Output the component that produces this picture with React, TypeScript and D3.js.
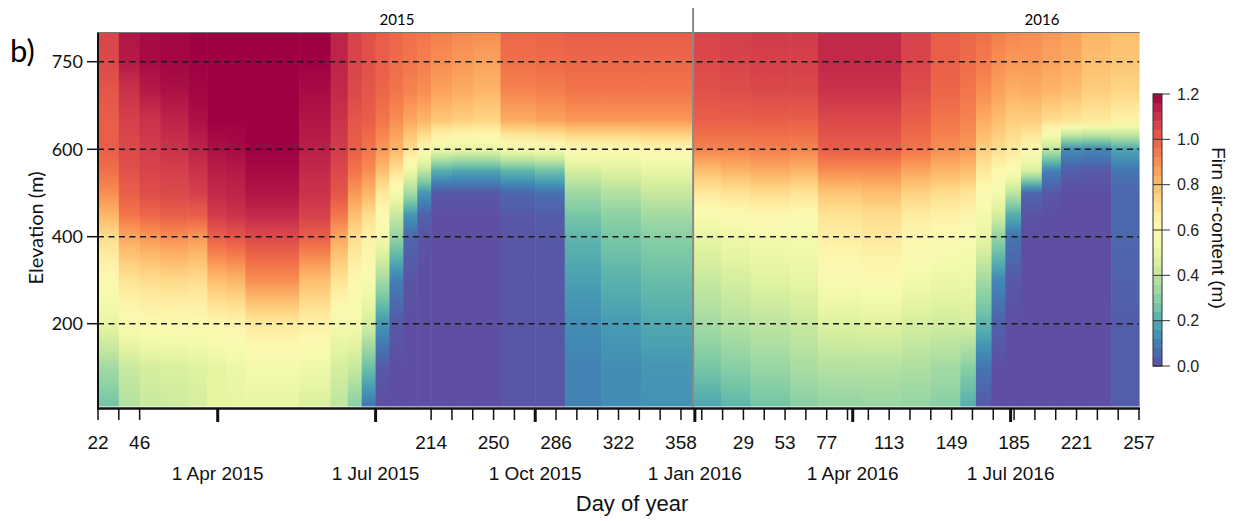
import React from "react";
import * as d3 from "d3";

// elevation levels (m) at which each profile is read
const elevations = [10, 100, 200, 300, 400, 450, 500, 550, 600, 650, 700, 750, 800];

// start day of each column (day of 2015; 2016 days are +365)
const colStartDay = [22, 34, 46, 58, 74, 85, 96, 107, 121, 138, 156, 166, 174, 182, 190, 198, 206,
  214, 226, 238, 254, 274, 291, 312, 335, 365, 381, 398, 421, 437, 462, 485, 502, 519, 528, 537,
  545, 554, 566, 577, 589, 606];
const lastDay = 622;

// firn air content (m) per column, bottom -> top (same order as elevations)
const firnAir = [
  [0.26, 0.35, 0.5, 0.6, 0.72, 0.82, 0.9, 0.96, 1.0, 1.0, 1.02, 1.05, 1.06],
  [0.38, 0.42, 0.58, 0.7, 0.85, 0.95, 1.0, 1.03, 1.05, 1.07, 1.1, 1.15, 1.16],
  [0.42, 0.45, 0.6, 0.72, 0.88, 0.98, 1.04, 1.06, 1.08, 1.1, 1.15, 1.18, 1.18],
  [0.43, 0.46, 0.6, 0.73, 0.9, 1.0, 1.05, 1.07, 1.1, 1.13, 1.17, 1.19, 1.19],
  [0.45, 0.48, 0.6, 0.72, 0.88, 1.0, 1.07, 1.1, 1.13, 1.17, 1.19, 1.2, 1.2],
  [0.5, 0.5, 0.62, 0.8, 1.0, 1.08, 1.12, 1.14, 1.17, 1.2, 1.2, 1.2, 1.2],
  [0.5, 0.52, 0.63, 0.82, 1.02, 1.1, 1.13, 1.15, 1.18, 1.2, 1.2, 1.2, 1.2],
  [0.5, 0.55, 0.68, 0.9, 1.05, 1.12, 1.16, 1.18, 1.2, 1.2, 1.2, 1.2, 1.2],
  [0.5, 0.55, 0.68, 0.9, 1.05, 1.12, 1.16, 1.18, 1.2, 1.2, 1.2, 1.2, 1.2],
  [0.46, 0.53, 0.65, 0.8, 1.0, 1.07, 1.1, 1.12, 1.14, 1.16, 1.18, 1.2, 1.2],
  [0.4, 0.45, 0.55, 0.7, 0.85, 0.95, 1.02, 1.05, 1.08, 1.1, 1.12, 1.13, 1.13],
  [0.3, 0.42, 0.55, 0.62, 0.72, 0.8, 0.88, 0.95, 1.0, 1.02, 1.05, 1.06, 1.06],
  [0.08, 0.25, 0.45, 0.57, 0.65, 0.72, 0.82, 0.9, 0.95, 1.0, 1.02, 1.03, 1.03],
  [0, 0.02, 0.15, 0.35, 0.55, 0.6, 0.68, 0.8, 0.88, 0.95, 0.98, 1.0, 1.0],
  [0, 0, 0.02, 0.1, 0.32, 0.42, 0.55, 0.7, 0.82, 0.9, 0.95, 0.97, 0.98],
  [0, 0, 0, 0.01, 0.05, 0.15, 0.35, 0.52, 0.72, 0.85, 0.92, 0.95, 0.96],
  [0, 0, 0, 0, 0.01, 0.04, 0.15, 0.4, 0.62, 0.82, 0.9, 0.93, 0.95],
  [0, 0, 0, 0, 0, 0, 0.02, 0.2, 0.52, 0.78, 0.86, 0.9, 0.93],
  [0, 0, 0, 0, 0, 0, 0.02, 0.18, 0.5, 0.76, 0.84, 0.88, 0.91],
  [0, 0, 0, 0, 0, 0, 0.02, 0.18, 0.5, 0.74, 0.82, 0.86, 0.9],
  [0.015, 0.015, 0.015, 0.015, 0.015, 0.02, 0.05, 0.22, 0.55, 0.84, 0.92, 0.96, 0.98],
  [0.015, 0.015, 0.015, 0.015, 0.02, 0.03, 0.07, 0.25, 0.56, 0.86, 0.93, 0.97, 0.99],
  [0.11, 0.11, 0.13, 0.17, 0.22, 0.27, 0.34, 0.45, 0.6, 0.88, 0.95, 0.98, 1.0],
  [0.13, 0.13, 0.16, 0.21, 0.27, 0.31, 0.38, 0.47, 0.6, 0.88, 0.95, 0.98, 1.0],
  [0.14, 0.15, 0.19, 0.24, 0.3, 0.35, 0.42, 0.5, 0.62, 0.88, 0.95, 0.98, 1.0],
  [0.18, 0.27, 0.35, 0.42, 0.5, 0.57, 0.68, 0.8, 0.92, 1.0, 1.03, 1.05, 1.06],
  [0.22, 0.3, 0.38, 0.45, 0.53, 0.6, 0.7, 0.82, 0.92, 1.0, 1.04, 1.06, 1.07],
  [0.26, 0.33, 0.4, 0.48, 0.55, 0.62, 0.72, 0.84, 0.93, 1.0, 1.05, 1.07, 1.08],
  [0.3, 0.36, 0.42, 0.5, 0.55, 0.6, 0.7, 0.82, 0.92, 1.0, 1.05, 1.07, 1.08],
  [0.32, 0.38, 0.47, 0.58, 0.66, 0.7, 0.78, 0.9, 1.0, 1.05, 1.1, 1.12, 1.12],
  [0.33, 0.38, 0.48, 0.6, 0.68, 0.72, 0.8, 0.9, 1.0, 1.05, 1.1, 1.12, 1.12],
  [0.32, 0.37, 0.45, 0.55, 0.62, 0.67, 0.75, 0.85, 0.95, 1.0, 1.04, 1.06, 1.06],
  [0.3, 0.35, 0.44, 0.52, 0.6, 0.65, 0.72, 0.82, 0.9, 0.95, 0.98, 1.0, 1.0],
  [0.2, 0.3, 0.45, 0.52, 0.58, 0.63, 0.7, 0.8, 0.88, 0.92, 0.95, 0.97, 0.98],
  [0.02, 0.08, 0.22, 0.35, 0.5, 0.55, 0.6, 0.68, 0.76, 0.84, 0.9, 0.94, 0.96],
  [0, 0, 0.04, 0.12, 0.32, 0.45, 0.55, 0.62, 0.72, 0.8, 0.86, 0.9, 0.93],
  [0, 0, 0, 0.02, 0.08, 0.2, 0.4, 0.58, 0.68, 0.76, 0.83, 0.88, 0.91],
  [0, 0, 0, 0, 0, 0.01, 0.05, 0.45, 0.62, 0.76, 0.84, 0.88, 0.9],
  [0, 0, 0, 0, 0, 0, 0.02, 0.1, 0.4, 0.72, 0.82, 0.86, 0.88],
  [0, 0, 0, 0, 0, 0, 0, 0.03, 0.13, 0.7, 0.8, 0.84, 0.86],
  [0, 0, 0, 0, 0, 0, 0, 0.02, 0.12, 0.68, 0.76, 0.8, 0.82],
  [0.03, 0.03, 0.03, 0.04, 0.05, 0.05, 0.05, 0.08, 0.18, 0.64, 0.74, 0.78, 0.8],
];

// axis ticks
const yTicks = [200, 400, 600, 750];
const dayTickDays = [22, 46, 214, 250, 286, 322, 358, 394, 418, 442, 478, 514, 550, 586, 622];
const dayTickLabels = ["22", "46", "214", "250", "286", "322", "358", "29", "53", "77", "113", "149", "185", "221", "257"];
const dateTickDays = [91, 182, 274, 366, 457, 548];
const dateTickLabels = ["1 Apr 2015", "1 Jul 2015", "1 Oct 2015", "1 Jan 2016", "1 Apr 2016", "1 Jul 2016"];
const cbTicks = [0, 0.2, 0.4, 0.6, 0.8, 1.0, 1.2];

const W = 1236, H = 521;
const calibri = "Lato, 'Open Sans', sans-serif";
const arial = "'Liberation Sans', Arial, sans-serif";

export default function App() {
  const x = d3.scaleLinear().domain([22, lastDay]).range([98, 1139]);
  const y = d3.scaleLinear().domain([10, 200, 400, 600, 750, 800]).range([406.5, 323.7, 236.7, 149.3, 61.7, 32.5]);
  const color = d3.scaleSequential((t: number) => d3.interpolateSpectral(1 - t)).domain([0, 1.2]);
  const cb = d3.scaleLinear().domain([0, 1.2]).range([366, 94]);

  const yTop = y(800), yBot = y(10);
  const minorTicks = [22, 34, 46].concat(d3.range(214, lastDay + 1, 12));

  // gradient stops for one column (sub-steps only smooth the rendering between read levels)
  const stops = (vals: number[]) => {
    const out: { off: number; c: string }[] = [];
    for (let i = vals.length - 1; i > 0; i--) {
      const e0 = elevations[i], e1 = elevations[i - 1];
      for (let k = 0; k < 4; k++) {
        const t = k / 4;
        const e = e0 + (e1 - e0) * t;
        const v = vals[i] + (vals[i - 1] - vals[i]) * t;
        out.push({ off: (y(e) - yTop) / (yBot - yTop), c: color(v) });
      }
    }
    out.push({ off: 1, c: color(vals[0]) });
    return out;
  };

  const cbBands = d3.range(0, 30).map(i => ({ v0: (i * 1.2) / 30, v1: ((i + 1) * 1.2) / 30 }));

  return (
    <svg width={W} height={H} style={{ position: "absolute", left: 0, top: 0, background: "#fff" }}>
      <defs>
        {firnAir.map((vals, i) => (
          <linearGradient key={i} id={`col${i}`} gradientUnits="userSpaceOnUse" x1={0} x2={0} y1={yTop} y2={yBot}>
            {stops(vals).map((s, j) => <stop key={j} offset={s.off} stopColor={s.c} />)}
          </linearGradient>
        ))}
      </defs>

      {/* heatmap columns */}
      {firnAir.map((vals, i) => {
        const x0 = x(colStartDay[i]);
        const x1 = x(i + 1 < colStartDay.length ? colStartDay[i + 1] : lastDay);
        return <rect key={i} x={x0} y={yTop} width={x1 - x0 + 0.6} height={yBot - yTop} fill={`url(#col${i})`} />;
      })}

      {/* frame */}
      <line x1={98} x2={1139.6} y1={yTop} y2={yTop} stroke="#777" strokeWidth={1} />
      <line x1={98} x2={98} y1={yTop} y2={409} stroke="#111" strokeWidth={2} />

      {/* dashed elevation lines */}
      {yTicks.map(t => (
        <line key={t} x1={98} x2={1139} y1={y(t)} y2={y(t)} stroke="#1a1a1a" strokeWidth={1.6} strokeDasharray="6,4.5" />
      ))}

      {/* year separator */}
      <line x1={x(365)} x2={x(365)} y1={8} y2={407} stroke="#8a8a8a" strokeWidth={2} />
      <text x={397} y={25} textAnchor="middle" fontFamily={calibri} fontSize={15}>2015</text>
      <text x={1042} y={25} textAnchor="middle" fontFamily={calibri} fontSize={15}>2016</text>
      <text x={10} y={62} fontFamily={calibri} fontSize={31}>b)</text>

      {/* y axis */}
      {yTicks.map(t => (
        <g key={t}>
          <line x1={87} x2={98} y1={y(t)} y2={y(t)} stroke="#111" strokeWidth={1.5} />
          <text x={83} y={y(t)} dy="0.35em" textAnchor="end" fontFamily={calibri} fontSize={18} fill="#111">{t}</text>
        </g>
      ))}
      <text transform={`translate(36,228) rotate(-90)`} textAnchor="middle" dy="0.35em" fontFamily={calibri} fontSize={20} fill="#111">Elevation (m)</text>

      {/* x axis */}
      <line x1={97} x2={1140} y1={408.5} y2={408.5} stroke="#111" strokeWidth={2.5} />
      {minorTicks.map(d => (
        <line key={d} x1={x(d)} x2={x(d)} y1={409} y2={420} stroke="#111" strokeWidth={1.5} />
      ))}
      {dateTickDays.map(d => (
        <line key={d} x1={x(d)} x2={x(d)} y1={409} y2={422} stroke="#111" strokeWidth={3} />
      ))}
      {dayTickDays.map((d, i) => (
        <text key={d} x={x(d)} y={449} textAnchor="middle" fontFamily={arial} fontSize={19} fill="#111">{dayTickLabels[i]}</text>
      ))}
      {dateTickDays.map((d, i) => (
        <text key={d} x={x(d)} y={480} textAnchor="middle" fontFamily={arial} fontSize={19} fill="#111">{dateTickLabels[i]}</text>
      ))}
      <text x={632} y={511} textAnchor="middle" fontFamily={arial} fontSize={22} fill="#111">Day of year</text>

      {/* colour bar */}
      {cbBands.map((b, i) => (
        <rect key={i} x={1153} y={cb(b.v1)} width={9} height={cb(b.v0) - cb(b.v1) + 0.3} fill={color((b.v0 + b.v1) / 2)} />
      ))}
      <rect x={1153} y={cb(1.2)} width={9} height={cb(0) - cb(1.2)} fill="none" stroke="#333" strokeWidth={1} />
      {cbTicks.map(t => (
        <g key={t}>
          <line x1={1153} x2={1170} y1={cb(t)} y2={cb(t)} stroke="#333" strokeWidth={1} />
          <text x={1177} y={cb(t)} dy="0.35em" fontFamily={arial} fontSize={16} fill="#222">{t.toFixed(1)}</text>
        </g>
      ))}
      <text transform={`translate(1219,228) rotate(90)`} textAnchor="middle" dy="0.35em" fontFamily={arial} fontSize={19} fill="#111">Firn air-content (m)</text>
    </svg>
  );
}
